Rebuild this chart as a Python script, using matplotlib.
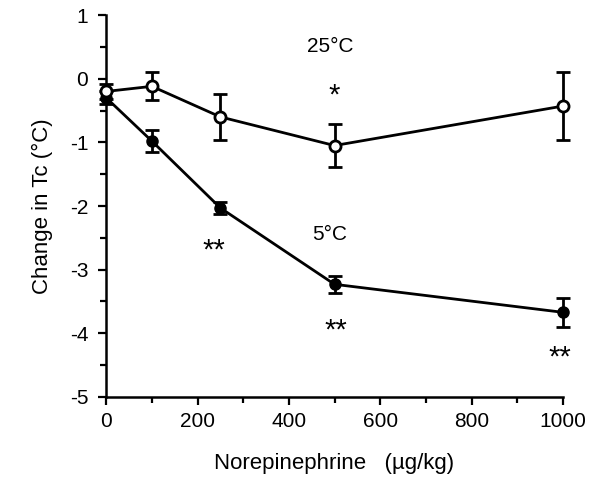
import matplotlib
matplotlib.use("Agg")
import matplotlib.pyplot as plt
from matplotlib.ticker import MultipleLocator

plt.rcParams['font.family'] = ['Liberation Sans', 'DejaVu Sans']
plt.rcParams['axes.unicode_minus'] = False

dose = [0, 100, 250, 500, 1000]
warm_mean = [-0.2, -0.12, -0.6, -1.05, -0.43]
warm_err = [0.12, 0.22, 0.36, 0.34, 0.54]
cold_mean = [-0.3, -0.98, -2.03, -3.23, -3.67]
cold_err = [0.1, 0.17, 0.1, 0.13, 0.23]

fig = plt.figure(figsize=(5.9, 4.78), dpi=100)
ax = fig.add_axes([0.18, 0.1695, 0.774, 0.799])

lw = 2.0
ax.errorbar(dose, cold_mean, yerr=cold_err, color='black', lw=lw, marker='o',
            ms=8, mfc='black', mec='black', capsize=5, capthick=lw, elinewidth=lw,
            clip_on=False, zorder=3)
ax.errorbar(dose, warm_mean, yerr=warm_err, color='black', lw=lw, marker='o',
            ms=8, mfc='white', mec='black', mew=lw, capsize=5, capthick=lw,
            elinewidth=lw, clip_on=False, zorder=4)

ax.set_xlim(0, 1000)
ax.set_ylim(-5, 1)
ax.spines['top'].set_visible(False)
ax.spines['right'].set_visible(False)
for s in ['left', 'bottom']:
    ax.spines[s].set_linewidth(1.8)
ax.xaxis.set_major_locator(MultipleLocator(200))
ax.xaxis.set_minor_locator(MultipleLocator(100))
ax.yaxis.set_major_locator(MultipleLocator(1))
ax.yaxis.set_minor_locator(MultipleLocator(0.5))
ax.tick_params(which='major', direction='out', length=6, width=1.6, labelsize=15)
ax.tick_params(which='minor', direction='out', length=4, width=1.6)
ax.tick_params(axis='y', which='major', pad=7)
ax.tick_params(axis='x', which='major', pad=5)

ax.set_xlabel('Norepinephrine   (µg/kg)', fontsize=16, labelpad=16)
ax.set_ylabel('Change in Tc (°C)', fontsize=16, labelpad=12)

ax.text(490, 0.5, '25°C', fontsize=15, ha='center', va='center')
ax.text(500, -0.27, '*', fontsize=21, ha='center', va='center')
ax.text(490, -2.45, '5°C', fontsize=15, ha='center', va='center')
ax.text(235, -2.7, '**', fontsize=21, ha='center', va='center')
ax.text(503, -3.95, '**', fontsize=21, ha='center', va='center')
ax.text(993, -4.38, '**', fontsize=21, ha='center', va='center')

fig.savefig('out.png', dpi=100)
